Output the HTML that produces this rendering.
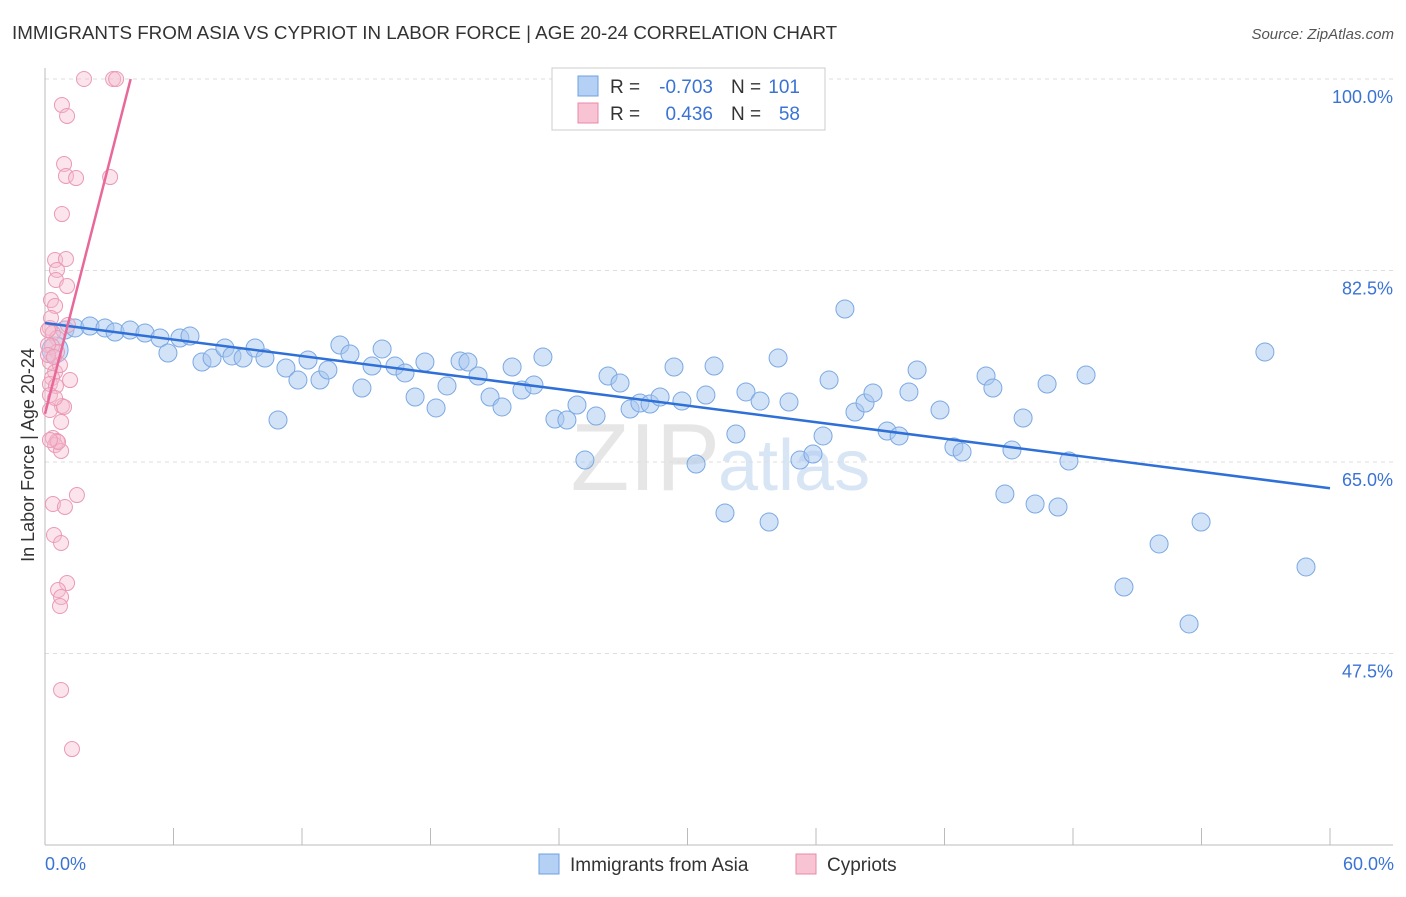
<!DOCTYPE html>
<html><head><meta charset="utf-8"><style>
body{margin:0;background:#fff;font-family:"Liberation Sans",sans-serif;}
svg text{font-family:"Liberation Sans",sans-serif;}
</style></head><body>
<svg id="chart" width="1406" height="892" xmlns="http://www.w3.org/2000/svg">
<text x="12" y="39" font-size="18.8" fill="#333">IMMIGRANTS FROM ASIA VS CYPRIOT IN LABOR FORCE | AGE 20-24 CORRELATION CHART</text>
<text x="1394" y="39" font-size="15" fill="#555" text-anchor="end" font-style="italic">Source: ZipAtlas.com</text>
<text x="720" y="490" font-size="96" fill="#e6e6e6" text-anchor="end" font-family="Liberation Serif">ZIP</text>
<text x="718" y="490" font-size="72" fill="#d8e5f5">atlas</text>
<g id="grid"></g>
<g id="axes"></g>
<g id="marks"></g>
<text transform="translate(34,455) rotate(-90)" font-size="18" fill="#333" text-anchor="middle">In Labor Force | Age 20-24</text>
<text x="45" y="870" font-size="18" fill="#3a73d4">0.0%</text>
<text x="1394" y="870" font-size="18" fill="#3a73d4" text-anchor="end">60.0%</text>
<g>
<rect x="552" y="68" width="273" height="62" fill="#fff" stroke="#ccc"/>
<rect x="578" y="76" width="20" height="20" fill="#b4d0f4" stroke="#6fa0e0"/>
<rect x="578" y="103" width="20" height="20" fill="#f8c4d4" stroke="#e88aa8"/>
<text x="610" y="93" font-size="19" fill="#333">R =</text>
<text x="713" y="93" font-size="19" fill="#3a73d4" text-anchor="end">-0.703</text>
<text x="731" y="93" font-size="19" fill="#333">N =</text>
<text x="800" y="93" font-size="19" fill="#3a73d4" text-anchor="end">101</text>
<text x="610" y="120" font-size="19" fill="#333">R =</text>
<text x="713" y="120" font-size="19" fill="#3a73d4" text-anchor="end">0.436</text>
<text x="731" y="120" font-size="19" fill="#333">N =</text>
<text x="800" y="120" font-size="19" fill="#3a73d4" text-anchor="end">58</text>
</g>
<g>
<rect x="539" y="854" width="20" height="20" fill="#b4d0f4" stroke="#6fa0e0"/>
<text x="570" y="871" font-size="19" fill="#333">Immigrants from Asia</text>
<rect x="796" y="854" width="20" height="20" fill="#f8c4d4" stroke="#e88aa8"/>
<text x="827" y="871" font-size="19" fill="#333">Cypriots</text>
</g>
</svg>
<script>
const yTicks=[100,82.5,65,47.5];
const xTickVals=[0,6,12,18,24,30,36,42,48,54,60];
const bluePx=[[55,350],[65,330],[75,328],[90,326],[105,328],[115,332],[130,330],[145,333],[160,338],[168,353],[180,338],[190,336],[202,362],[212,358],[225,348],[232,356],[243,358],[255,348],[265,358],[278,420],[286,368],[298,380],[308,360],[320,380],[328,370],[340,345],[350,354],[362,388],[372,366],[382,349],[395,366],[405,373],[415,397],[425,362],[436,408],[447,386],[460,361],[468,362],[478,376],[490,397],[502,407],[512,367],[522,390],[534,385],[543,357],[555,419],[567,420],[577,405],[585,460],[596,416],[608,376],[620,383],[630,409],[640,403],[650,404],[660,397],[674,367],[682,401],[696,464],[706,395],[714,366],[725,513],[736,434],[746,392],[760,401],[769,522],[778,358],[789,402],[800,460],[813,454],[823,436],[829,380],[845,309],[855,412],[865,403],[873,393],[887,431],[899,436],[909,392],[917,370],[940,410],[954,447],[962,452],[986,376],[993,388],[1005,494],[1012,450],[1023,418],[1035,504],[1047,384],[1058,507],[1069,461],[1086,375],[1124,587],[1159,544],[1189,624],[1201,522],[1265,352],[1306,567]];
const pinkPx=[[84,79],[113,79],[116,79],[62,105],[67,116],[64,164],[66,176],[76,178],[110,177],[62,214],[55,260],[66,259],[57,270],[56,280],[67,286],[51,300],[55,306],[50,328],[53,333],[57,338],[52,346],[57,352],[50,362],[55,372],[52,378],[50,384],[70,380],[56,386],[62,406],[50,410],[64,407],[61,422],[53,438],[57,441],[55,445],[61,451],[77,495],[53,504],[65,507],[54,535],[61,543],[67,583],[58,590],[61,597],[60,606],[61,690],[72,749],[48,330],[48,345],[48,355],[50,395],[60,365],[55,398],[68,325],[51,318],[58,442],[50,440],[54,357]];
const blueX=bluePx.map(p=>+((p[0]-45)/1285*60).toFixed(2));
const blueY=bluePx.map(p=>+(100-(p[1]-79)/10.943).toFixed(2));
const pinkX=pinkPx.map(p=>+((p[0]-45)/1285*60).toFixed(2));
const pinkY=pinkPx.map(p=>+(100-(p[1]-79)/10.943).toFixed(2));
const blueLine=[[0,77.7],[60,62.6]];
const pinkLine=[[0,69.4],[4,100]];
const X=v=>45+v/60*1285, Y=v=>79+(100-v)*10.943;
const NS="http://www.w3.org/2000/svg";
function mk(tag,attrs,parent){const e=document.createElementNS(NS,tag);for(const k in attrs)e.setAttribute(k,attrs[k]);document.getElementById(parent).appendChild(e);return e;}
yTicks.forEach(t=>{
 const l=mk('line',{x1:45,x2:1393,y1:Y(t),y2:Y(t),stroke:'#ddd','stroke-dasharray':'4,4'},'grid');
 
 
 const tx=mk('text',{x:1393,y:Y(t)+24,'font-size':18,fill:'#3a73d4','text-anchor':'end'},'grid');
 tx.textContent=t.toFixed(1)+'%';
 
 
});
mk('line',{x1:45,x2:45,y1:68,y2:845,stroke:'#bbb'},'axes');
mk('line',{x1:45,x2:1393,y1:845,y2:845,stroke:'#bbb'},'axes');
xTickVals.forEach(t=>{
 const l=mk('line',{x1:X(t),x2:X(t),y1:828,y2:845,stroke:'#bbb'},'axes');
 
 
});
blueX.forEach((x,i)=>{
 const c=mk('circle',{cx:X(x),cy:Y(blueY[i]),r:i==0?13:9,fill:'#a8c8f0','fill-opacity':0.5,stroke:'#7aa8e4','stroke-width':1},'marks');
 
 
});
pinkX.forEach((x,i)=>{
 const c=mk('circle',{cx:X(x),cy:Y(pinkY[i]),r:7.5,fill:'#f6bccf','fill-opacity':0.4,stroke:'#ec9ab4','stroke-width':1},'marks');
 
 
});
const bl=mk('line',{x1:X(blueLine[0][0]),y1:Y(blueLine[0][1]),x2:X(blueLine[1][0]),y2:Y(blueLine[1][1]),stroke:'#2f6fd8','stroke-width':2.5},'marks');


const pl=mk('line',{x1:X(pinkLine[0][0]),y1:Y(pinkLine[0][1]),x2:X(pinkLine[1][0]),y2:Y(pinkLine[1][1]),stroke:'#e8689a','stroke-width':2.5},'marks');


</script>
</body></html>
